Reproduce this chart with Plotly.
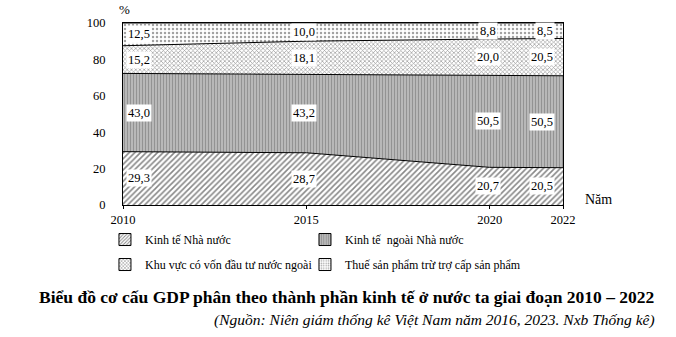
import plotly.graph_objects as go

years = [2010, 2015, 2020, 2022]
nha_nuoc = [29.3, 28.7, 20.7, 20.5]
ngoai_nha_nuoc = [43.0, 43.2, 50.5, 50.5]
fdi = [15.2, 18.1, 20.0, 20.5]
thue = [12.5, 10.0, 8.8, 8.5]

names = ["Kinh tế Nhà nước", "Kinh tế  ngoài Nhà nước",
         "Khu vực có vốn đầu tư nước ngoài", "Thuế sản phẩm trừ trợ cấp sản phẩm"]
series = [nha_nuoc, ngoai_nha_nuoc, fdi, thue]
patterns = [
    dict(shape="/", fgcolor="#111111", bgcolor="white", size=4, solidity=0.4),
    dict(shape="|", fgcolor="#6e6e6e", bgcolor="#b8b8b8", size=3, solidity=0.35),
    dict(shape="x", fgcolor="#333333", bgcolor="white", size=3, solidity=0.4),
    dict(shape=".", fgcolor="#444444", bgcolor="white", size=4, solidity=0.3),
]
legend_ids = ["legend", "legend2", "legend", "legend2"]

FONT = "Liberation Serif"
fig = go.Figure()
for name, vals, pat in zip(names, series, patterns):
    fig.add_trace(go.Scatter(
        x=years, y=vals, name=name, mode="lines", stackgroup="one",
        line=dict(color="black", width=1), fillpattern=pat, showlegend=False,
    ))
# legend swatches (small squares like the reference)
for k, (name, pat, lg) in enumerate(zip(names, patterns, legend_ids)):
    fig.add_trace(go.Bar(
        x=[None], y=[None], name=name, legend=lg, legendgroup=f"g{k}",
        marker=dict(color=pat["bgcolor"], line=dict(color="black", width=1),
                    pattern=dict(shape=pat["shape"], fgcolor=pat["fgcolor"],
                                 bgcolor=pat["bgcolor"], size=3, solidity=pat["solidity"])),
    ))

annotations = []
cum = [0, 0, 0, 0]
for vals in series:
    for i, (yr, v) in enumerate(zip(years, vals)):
        mid = cum[i] + v / 2
        if i == 0:
            xa, xs = "left", 3
        elif i == len(years) - 1:
            xa, xs = "right", -8
        else:
            xa, xs = "center", -2
        annotations.append(dict(
            x=yr, y=mid, text=f"{v:.1f}".replace(".", ","), showarrow=False,
            xanchor=xa, xshift=xs, bgcolor="white", borderpad=1,
            font=dict(family=FONT, size=12.5, color="black")))
    cum = [c + v for c, v in zip(cum, vals)]

annotations += [
    dict(x=0, y=1, xref="paper", yref="paper", text="%", showarrow=False,
         xanchor="left", yanchor="bottom", xshift=-6, yshift=4,
         font=dict(family=FONT, size=13, color="black")),
    dict(x=1, y=0, xref="paper", yref="paper", text="Năm", showarrow=False,
         xanchor="left", yanchor="middle", xshift=20, yshift=6,
         font=dict(family=FONT, size=14, color="black")),
    dict(x=0.5, y=0, xref="paper", yref="paper", xanchor="center", yanchor="middle",
         text="<b>Biểu đồ cơ cấu GDP phân theo thành phần kinh tế ở nước ta giai đoạn 2010 – 2022</b>",
         showarrow=False, xshift=3, yshift=-92,
         font=dict(family=FONT, size=17.5, color="black")),
    dict(x=1, y=0, xref="paper", yref="paper", xanchor="right", yanchor="middle",
         text="<i>(Nguồn: Niên giám thống kê Việt Nam năm 2016, 2023. Nxb Thống kê)</i>",
         showarrow=False, xshift=94, yshift=-115,
         font=dict(family=FONT, size=15.5, color="black")),
]

leg_common = dict(orientation="v", yanchor="top", traceorder="grouped",
                  font=dict(family=FONT, size=12), itemwidth=30, tracegroupgap=6,
                  bgcolor="rgba(0,0,0,0)")

fig.update_layout(
    width=676, height=337,
    margin=dict(l=123, r=113, t=23, b=132),
    paper_bgcolor="white", plot_bgcolor="white",
    font=dict(family=FONT, size=12, color="black"),
    showlegend=True,
    legend=dict(x=-0.041, y=-0.11, xanchor="left", **leg_common),
    legend2=dict(x=0.4136, y=-0.11, xanchor="left", **leg_common),
    annotations=annotations,
    xaxis=dict(range=[2010, 2022], tickvals=years, showgrid=False, zeroline=False,
               showline=True, linecolor="black", linewidth=1, mirror=True,
               ticks="outside", ticklen=3, tickcolor="black",
               tickfont=dict(family=FONT, size=12.5)),
    yaxis=dict(range=[0, 100], tickvals=[0, 20, 40, 60, 80, 100], showgrid=False,
               zeroline=False, showline=True, linecolor="black", linewidth=1, mirror=True,
               ticks="", ticklabelstandoff=14, tickfont=dict(family=FONT, size=12.5)),
)
fig.write_html("out.html")
